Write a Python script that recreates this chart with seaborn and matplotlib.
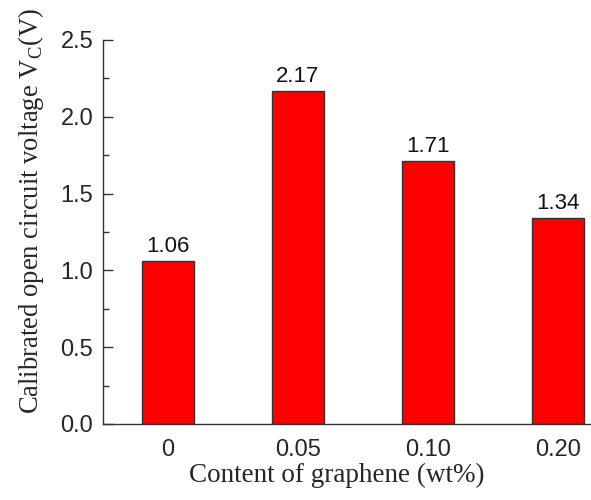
import matplotlib
matplotlib.use("Agg")
import matplotlib.pyplot as plt
from matplotlib.ticker import MultipleLocator, FormatStrFormatter
import seaborn as sns
import pandas as pd

categories = ["0", "0.05", "0.10", "0.20"]
voltages = [1.06, 2.17, 1.71, 1.34]
value_labels = ["1.06", "2.17", "1.71", "1.34"]

sns.set_style("white")
plt.rcParams["font.family"] = ["Liberation Sans", "DejaVu Sans"]
plt.rcParams["mathtext.fontset"] = "custom"
plt.rcParams["mathtext.rm"] = "Liberation Serif"

df = pd.DataFrame({"content": categories, "vc": voltages})

fig = plt.figure(figsize=(5.91, 5.0), dpi=100)
# axes spans 103..623 px horizontally (right part falls outside the canvas)
ax = fig.add_axes([103 / 591, (500 - 424) / 500, 520 / 591, 384 / 500])

sns.barplot(data=df, x="content", y="vc", color="#ff0000", width=0.4,
            edgecolor="#333333", linewidth=1.0, saturation=1, ax=ax)

ax.set_xlim(-0.5, 3.5)
ax.set_ylim(0, 2.5)
ax.yaxis.set_major_locator(MultipleLocator(0.5))
ax.yaxis.set_minor_locator(MultipleLocator(0.25))
ax.yaxis.set_major_formatter(FormatStrFormatter("%.1f"))

for side in ("top", "right"):
    ax.spines[side].set_visible(False)
for side in ("left", "bottom"):
    ax.spines[side].set_color("#333333")
    ax.spines[side].set_linewidth(1.0)

ax.tick_params(axis="y", which="major", direction="in", length=7, width=1,
               color="#333333", labelsize=17, pad=7, left=True)
ax.tick_params(axis="y", which="minor", direction="in", length=4, width=1,
               color="#333333", left=True)
ax.tick_params(axis="x", which="both", length=0, labelsize=17, pad=11)

for i, (v, lab) in enumerate(zip(voltages, value_labels)):
    ax.text(i, v + 0.058, lab, ha="center", va="baseline", fontsize=16,
            color="#111111")

ax.set_xlabel("Content of graphene (wt%)", family="Liberation Serif",
              fontsize=19.5)
ax.set_ylabel("Calibrated open circuit voltage V$_\\mathregular{C}$(V)",
              family="Liberation Serif", fontsize=19.2)
ax.xaxis.set_label_coords(0.45, -0.1)
ax.yaxis.set_label_coords(-0.11, 0.556)

fig.savefig("out.png", dpi=100)
